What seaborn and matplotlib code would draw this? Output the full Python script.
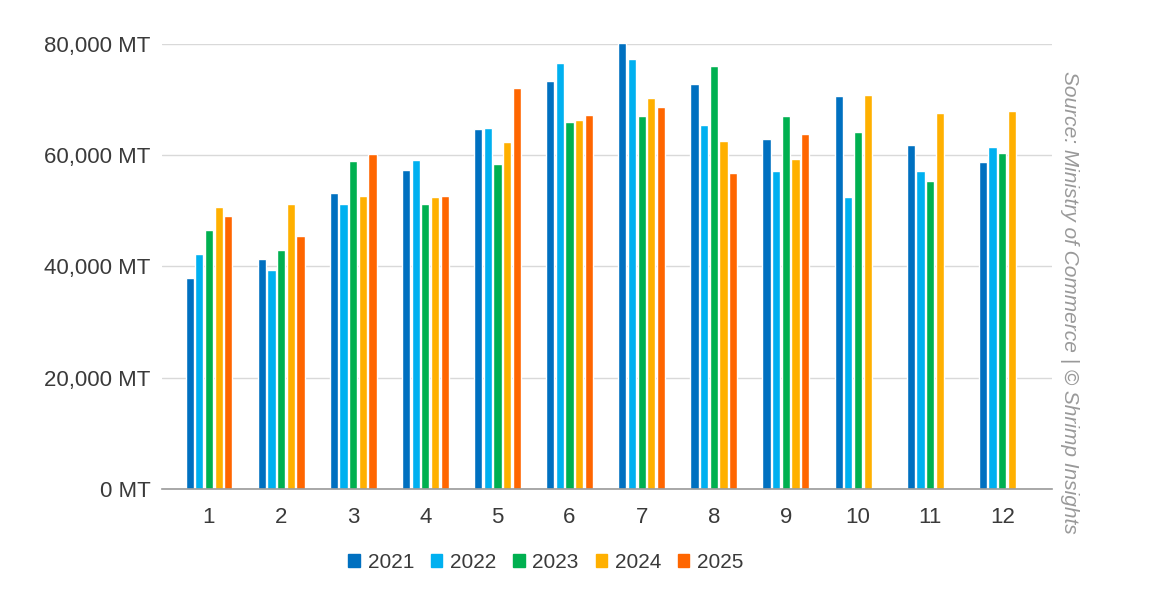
import numpy as np
import pandas as pd
import matplotlib
matplotlib.use("Agg")
import matplotlib.pyplot as plt
import matplotlib.patches as mpatches
import seaborn as sns

months = [str(m) for m in range(1, 13)]
years = ["2021", "2022", "2023", "2024", "2025"]
v2021 = [37960, 41320, 53210, 57420, 64740, 73270, 80200, 72850, 62880, 70570, 61860, 58800]
v2022 = [42290, 39280, 51290, 59160, 64920, 76510, 77300, 65520, 57230, 52490, 57230, 61560]
v2023 = [46490, 42940, 58980, 51170, 58500, 66000, 67030, 76040, 67030, 64200, 55310, 60420]
v2024 = [50690, 51170, 52730, 52430, 62340, 66360, 70210, 62520, 59340, 70750, 67680, 67980]
v2025 = [49070, 45530, 60180, 52610, 72010, 67320, 68650, 56820, 63840, np.nan, np.nan, np.nan]
colors = ["#0070C0", "#00B0F0", "#00B050", "#FFB000", "#FF6600"]
yticks = [0, 20000, 40000, 60000, 80000]
ytick_labels = ["0 MT", "20,000 MT", "40,000 MT", "60,000 MT", "80,000 MT"]
source_text = "Source: Ministry of Commerce | © Shrimp Insights"

series = [v2021, v2022, v2023, v2024, v2025]
rows = []
for y, vals in zip(years, series):
    for m, v in zip(months, vals):
        rows.append({"month": m, "year": y, "value": v})
df = pd.DataFrame(rows)

sns.set_theme(style="white")
plt.rcParams["font.family"] = ["Liberation Sans", "DejaVu Sans"]

fig = plt.figure(figsize=(11.51, 5.92), dpi=100)
ax = fig.add_axes([0.1407, 0.174, 0.7733, 0.7517])

sns.barplot(data=df, x="month", y="value", hue="year", order=months,
            hue_order=years, palette=colors, width=0.67, gap=0.15,
            ax=ax, legend=False, errorbar=None, saturation=1)

ax.set_ylim(0, 80000)
ax.set_xlim(-0.652, 11.69)
ax.set_yticks(yticks)
ax.set_yticklabels(ytick_labels)
ax.set_xlabel("")
ax.set_ylabel("")
ax.grid(axis="y", color="#d9d9d9", linewidth=1)
ax.set_axisbelow(True)
for s in ["top", "right", "left"]:
    ax.spines[s].set_visible(False)
ax.spines["bottom"].set_color("#9a9a9a")
ax.spines["bottom"].set_linewidth(1.2)
ax.tick_params(axis="y", length=0, pad=8, labelsize=16, labelcolor="#3a3a3a")
ax.tick_params(axis="x", length=0, pad=13, labelsize=16, labelcolor="#3a3a3a")

handles = [mpatches.Patch(color=c, label=y) for c, y in zip(colors, years)]
fig.legend(handles=handles, loc="center", bbox_to_anchor=(0.4744, 0.05), ncol=5,
           frameon=False, fontsize=15, handlelength=0.55, handleheight=0.55,
           handletextpad=0.38, columnspacing=0.8, labelcolor="#3a3a3a")

fig.text(0.929, 0.49, source_text, rotation=-90, ha="center", va="center",
         fontsize=15, style="italic", color="#999999")

fig.savefig("out.png", dpi=100)
